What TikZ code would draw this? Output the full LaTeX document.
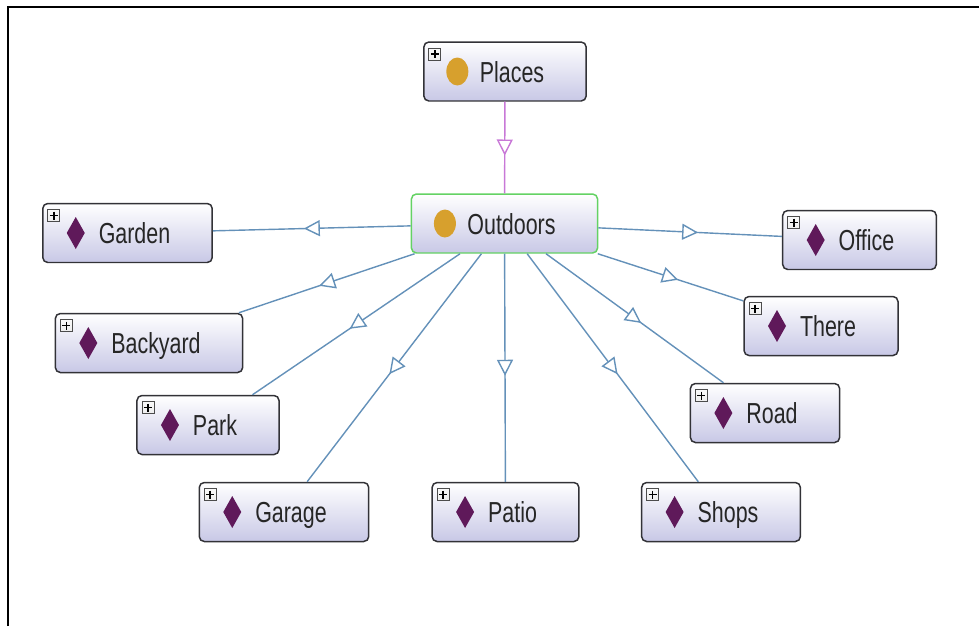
\documentclass[tikz,border=0pt]{standalone}
\usepackage{fontspec}
\setmainfont{Liberation Sans}
\usepackage{graphicx}
\usetikzlibrary{arrows.meta, decorations.markings}

\definecolor{edgeBlue}{RGB}{100,145,185}
\definecolor{edgePurple}{RGB}{200,120,215}
\definecolor{dotGold}{RGB}{215,160,45}
\definecolor{diaPlum}{RGB}{95,25,90}
\definecolor{boxShade}{RGB}{200,200,230}
\definecolor{boxBorder}{RGB}{50,50,55}
\definecolor{selGreen}{RGB}{100,210,100}

% text of a box: pushed right of the icon, stretched a bit in height
\newcommand{\boxText}[1]{\hspace*{0.28cm}\scalebox{1}[1.35]{#1}}

% icons drawn inside the boxes
\newcommand{\plusMark}{%
    \draw[sharp corners, draw=gray!60!black, line width=0.4pt, top color=white, bottom color=gray!45]
        ([shift={(0.1cm,-0.12cm)}]path picture bounding box.north west) rectangle ++(0.24cm,-0.24cm);
    \draw[sharp corners, black, line width=0.9pt]
        ([shift={(0.22cm,-0.16cm)}]path picture bounding box.north west) -- ++(0,-0.16cm)
        ([shift={(0.14cm,-0.24cm)}]path picture bounding box.north west) -- ++(0.16cm,0);
}
\newcommand{\classDot}{%
    \fill[dotGold] ([xshift=0.67cm]path picture bounding box.west) ellipse [x radius=0.22cm, y radius=0.28cm];
}
\newcommand{\indDiamond}{%
    \fill[diaPlum, sharp corners] ([xshift=0.66cm]path picture bounding box.west)
        +(0,0.32cm) -- +(0.18cm,0) -- +(0,-0.32cm) -- +(-0.18cm,0) -- cycle;
}

\begin{document}
\begin{tikzpicture}[
    x=0.02cm, y=-0.02cm,
    font=\fontsize{12.2}{14}\selectfont,
    box/.style={
        draw=boxBorder,
        rounded corners=0.1cm,
        line width=0.85pt,
        top color=white,
        bottom color=boxShade,
        minimum height=1.18cm,
        inner xsep=0.84cm,
        inner ysep=0pt,
        text height=0.42cm,
        text depth=0pt,
        text=black!85
    },
    clsBox/.style={
        box,
        path picture={\plusMark\classDot}
    },
    rootBox/.style={
        box,
        draw=selGreen,
        path picture={\classDot}
    },
    indBox/.style={
        box,
        path picture={\plusMark\indDiamond}
    },
    isaLine/.style={
        draw=edgeBlue,
        color=edgeBlue,
        line width=0.8pt,
        postaction={decorate},
        decoration={markings, mark=at position 0.5 with
            {\arrow[xshift=0.16cm]{Triangle[length=0.32cm, width=0.32cm, fill=white]}}}
    },
    subLine/.style={
        isaLine,
        draw=edgePurple,
        color=edgePurple
    }
]
\useasboundingbox (0,0) rectangle (979,626);

% --- Frame ---
\draw[line width=1.1pt] (8,626) -- (8,7) -- (979,7);

% --- Classes ---
\node[clsBox] (places) at (505,71.5) {\boxText{Places}};
\node[rootBox] (outdoors) at (504.5,223.5) {\boxText{Outdoors}};

% --- Individuals (left) ---
\node[indBox] (garden) at (127.5,233) {\boxText{Garden}};
\node[indBox] (backyard) at (149,343) {\boxText{Backyard}};
\node[indBox] (park) at (208,425) {\boxText{Park}};
\node[indBox] (garage) at (284,512) {\boxText{Garage}};

% --- Individuals (bottom and right) ---
\node[indBox] (patio) at (505.5,512) {\boxText{Patio}};
\node[indBox] (shops) at (721,512) {\boxText{Shops}};
\node[indBox] (road) at (765,413) {\boxText{Road}};
\node[indBox] (there) at (821,326) {\boxText{There}};
\node[indBox] (office) at (859.5,240) {\boxText{Office}};

% --- Connections ---
\draw[subLine] (places) -- (outdoors);

\draw[isaLine] (outdoors) -- (garden);
\draw[isaLine] (outdoors) -- (backyard);
\draw[isaLine] (outdoors) -- (park);
\draw[isaLine] (outdoors) -- (garage);
\draw[isaLine] (outdoors) -- (patio);
\draw[isaLine] (outdoors) -- (shops);
\draw[isaLine] (outdoors) -- (road);
\draw[isaLine] (outdoors) -- (there);
\draw[isaLine] (outdoors) -- (office);

\end{tikzpicture}
\end{document}
